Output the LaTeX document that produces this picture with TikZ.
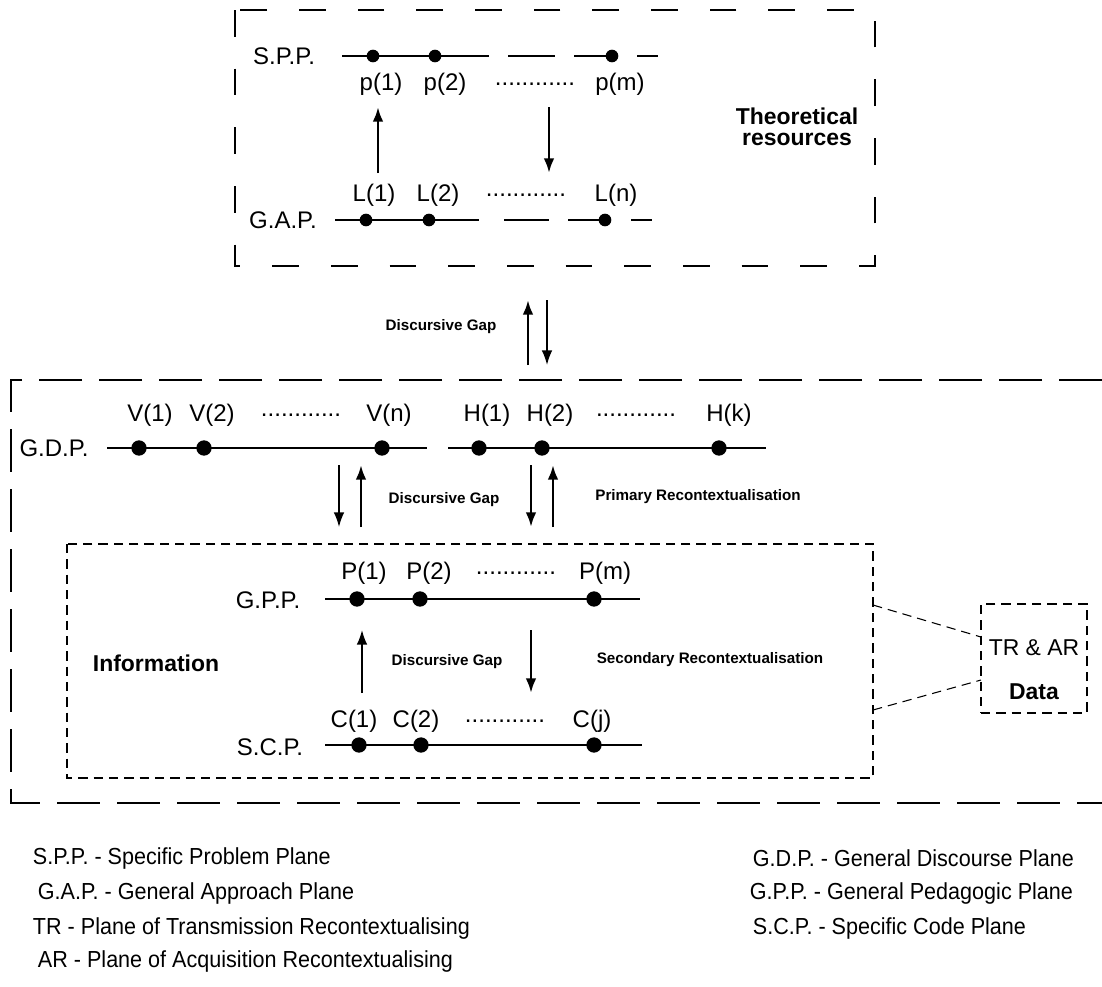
\documentclass[tikz,border=0pt]{standalone}
\usepackage{fontspec}
\setmainfont{Liberation Sans}
\newfontfamily\keyfont[FakeStretch=0.93]{Liberation Sans}
\usetikzlibrary{arrows.meta,positioning}

\tikzset{every picture/.style={line width=0.75pt}}
\tikzset{
  plane/.style={line width=2.2pt},
  thinplane/.style={line width=1.1pt},
  dot/.style={circle, fill, inner sep=0pt, minimum size=11.5pt},
  smalldot/.style={circle, fill, inner sep=0pt, minimum size=9.5pt},
  lbl/.style={font=\fontsize{18}{20}\selectfont},
  gaptext/.style={font=\bfseries\fontsize{11.4}{13}\selectfont},
  bigtext/.style={font=\bfseries\fontsize{17.2}{19}\selectfont, align=center},
  legend/.style={font=\keyfont\fontsize{17.4}{19}\selectfont, anchor=west},
  longdash/.style={dash pattern=on 20pt off 24pt, line width=1pt},
  bigdash/.style={dash pattern=on 32pt off 13pt, line width=1pt},
  shortdash/.style={dash pattern=on 7pt off 4.5pt, line width=0.8pt},
  gap/.style={-{Latex[length=11pt,width=8pt]}, line width=2pt},
  thingap/.style={-{Latex[length=11pt,width=8pt]}, line width=1.2pt},
}

\begin{document}
\begin{tikzpicture}[x=0.75pt, y=-0.75pt]
        \useasboundingbox (0,0) rectangle (1102,986);

        % theoretical resources
        \draw[longdash] (235,10) rectangle (875,266);
        \node[lbl] (spp) at (284,56) {S.P.P.};
        \draw[thinplane] (342,56) -- (489,56) (508,56) -- (555,56) (574,56) -- (614,56) (637,56) -- (658,56);
        \node[smalldot] (p1) at (373,56) {};
        \node[smalldot] (p2) at (435,56) {};
        \node[smalldot] (pm) at (612,56) {};
        \node[lbl] (p1lab) at (381,84) {p(1)};
        \node[lbl] (p2lab) at (445,84) {p(2)};
        \node[lbl] (pdots) at (535,84) {............};
        \node[lbl] (pmlab) at (620,84) {p(m)};
        \node[lbl] (l1lab) at (374,195) {L(1)};
        \node[lbl] (l2lab) at (438,195) {L(2)};
        \node[lbl] (ldots) at (526,195) {............};
        \node[lbl] (lnlab) at (616,195) {L(n)};
        \node[lbl] (gap) at (283,220) {G.A.P.};
        \draw[thinplane] (335,220) -- (479,220) (504,220) -- (549,220) (568,220) -- (607,220) (631,220) -- (652,220);
        \node[smalldot] (l1) at (366,220) {};
        \node[smalldot] (l2) at (429,220) {};
        \node[smalldot] (ln) at (605,220) {};
        \coordinate (upA) at (378,173);
        \coordinate (upB) at (378,107);
        \coordinate (dnA) at (549,107);
        \coordinate (dnB) at (549,173);
        \draw[gap] (upA) -- (upB);
        \draw[gap] (dnA) -- (dnB);
        \node[bigtext] (theo) at (797,127) {Theoretical\\[-3pt]resources};

        % gap between the two boxes
        \node[gaptext] (gapA) at (441,327) {Discursive Gap};
        \coordinate (midUpA) at (528,365);
        \coordinate (midUpB) at (528,300);
        \coordinate (midDnA) at (547,300);
        \coordinate (midDnB) at (547,365);
        \draw[gap] (midUpA) -- (midUpB);
        \draw[thingap] (midDnA) -- (midDnB);

        % discourse box
        \draw[bigdash] (1102,380) -- (11,380) -- (11,803) -- (1102,803);
        \node[lbl] (gdp) at (54,448) {G.D.P.};
        \coordinate (vA) at (107,448);
        \coordinate (vB) at (427,448);
        \coordinate (hA) at (448,448);
        \coordinate (hB) at (766,448);
        \draw[plane] (vA) -- (vB);
        \draw[plane] (hA) -- (hB);
        \node[dot] (v1) at (139,448) {};
        \node[dot] (v2) at (204,448) {};
        \node[dot] (vn) at (382,448) {};
        \node[dot] (h1) at (479,448) {};
        \node[dot] (h2) at (542,448) {};
        \node[dot] (hk) at (719,448) {};
        \node[lbl] (v1lab) at (150,415) {V(1)};
        \node[lbl] (v2lab) at (212,415) {V(2)};
        \node[lbl] (vdots) at (301,415) {............};
        \node[lbl] (vnlab) at (389,415) {V(n)};
        \node[lbl] (h1lab) at (487,415) {H(1)};
        \node[lbl] (h2lab) at (550,415) {H(2)};
        \node[lbl] (hdots) at (636,415) {............};
        \node[lbl] (hklab) at (729,415) {H(k)};
        \coordinate (vDnA) at (339,465);
        \coordinate (vDnB) at (339,527);
        \coordinate (vUpA) at (361,527);
        \coordinate (vUpB) at (361,465);
        \coordinate (hDnA) at (531,465);
        \coordinate (hDnB) at (531,527);
        \coordinate (hUpA) at (553,527);
        \coordinate (hUpB) at (553,465);
        \draw[thingap] (vDnA) -- (vDnB);
        \draw[gap] (vUpA) -- (vUpB);
        \draw[gap] (hDnA) -- (hDnB);
        \draw[gap] (hUpA) -- (hUpB);
        \node[gaptext] (gapB) at (444,500) {Discursive Gap};
        \node[gaptext] (prim) at (698,497) {Primary Recontextualisation};

        % information box
        \draw[shortdash] (67,544) rectangle (873,778);
        \node[bigtext] (info) at (156,663) {Information};
        \node[lbl] (gpp) at (268,600) {G.P.P.};
        \coordinate (gA) at (325,599);
        \coordinate (gB) at (640,599);
        \draw[plane] (gA) -- (gB);
        \node[dot] (P1) at (357,599) {};
        \node[dot] (P2) at (420,599) {};
        \node[dot] (Pm) at (594,599) {};
        \node[lbl] (P1lab) at (364,573) {P(1)};
        \node[lbl] (P2lab) at (429,573) {P(2)};
        \node[lbl] (Pdots) at (516,573) {............};
        \node[lbl] (Pmlab) at (605,573) {P(m)};
        \coordinate (infUpA) at (362,693);
        \coordinate (infUpB) at (362,630);
        \coordinate (infDnA) at (531,630);
        \coordinate (infDnB) at (531,693);
        \draw[thingap] (infUpA) -- (infUpB);
        \draw[gap] (infDnA) -- (infDnB);
        \node[gaptext] (gapC) at (447,662) {Discursive Gap};
        \node[gaptext] (sec) at (710,660) {Secondary Recontextualisation};
        \node[lbl] (C1lab) at (354,721) {C(1)};
        \node[lbl] (C2lab) at (416,721) {C(2)};
        \node[lbl] (Cdots) at (505,721) {............};
        \node[lbl] (Cjlab) at (592,721) {C(j)};
        \node[lbl] (scp) at (270,747) {S.C.P.};
        \coordinate (cA) at (325,745);
        \coordinate (cB) at (642,745);
        \draw[plane] (cA) -- (cB);
        \node[dot] (C1) at (359,745) {};
        \node[dot] (C2) at (421,745) {};
        \node[dot] (Cj) at (594,745) {};

        % data box
        \node[draw, shortdash, minimum width=79.5pt, minimum height=81.75pt] (data) at (1034,658.5) {};
        \node[lbl, font=\fontsize{17.2}{19}\selectfont] (trar) at (1034,648) {TR \& AR};
        \node[bigtext] (datalab) at (1034,692) {Data};
        \coordinate (infoTop) at (873,605);
        \coordinate (infoBot) at (873,710);
        \coordinate (dataTop) at (981,637);
        \coordinate (dataBot) at (981,680);
        \draw[shortdash] (infoTop) -- (dataTop);
        \draw[shortdash] (infoBot) -- (dataBot);

        % legend
        \node[legend] (k1) at (28,858) {S.P.P. - Specific Problem Plane};
        \node[legend] (k2) at (33,893) {G.A.P. - General Approach Plane};
        \node[legend] (k3) at (28,928) {TR - Plane of Transmission Recontextualising};
        \node[legend] (k4) at (33,961) {AR - Plane of Acquisition Recontextualising};
        \node[legend] (k5) at (748,858) {G.D.P. - General Discourse Plane};
        \node[legend] (k6) at (745,893) {G.P.P. - General Pedagogic Plane};
        \node[legend] (k7) at (748,928) {S.C.P. - Specific Code Plane};
    \end{tikzpicture}
\end{document}
